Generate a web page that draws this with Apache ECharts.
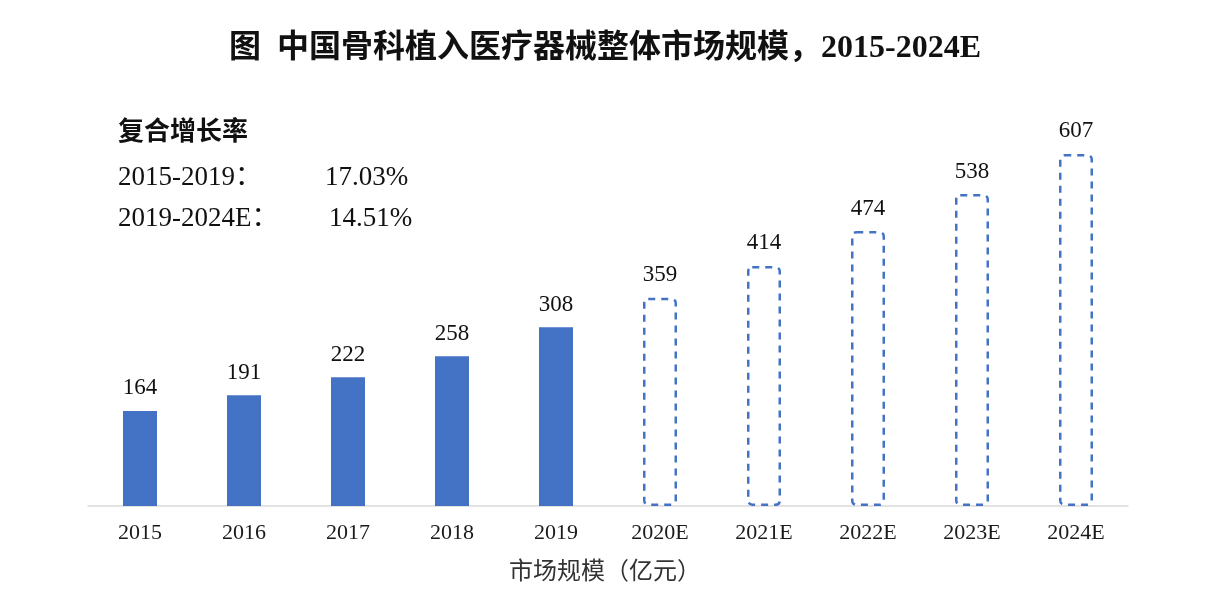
<!DOCTYPE html>
<html>
<head>
<meta charset="utf-8">
<script src="https://cdn.jsdelivr.net/npm/echarts@6/dist/echarts.min.js"></script>
<style>
html,body{margin:0;padding:0;background:#fff;}
#chart{width:1210px;height:604px;}
</style>
</head>
<body>
<div id="chart"></div>
<script>
const categories = ['2015','2016','2017','2018','2019','2020E','2021E','2022E','2023E','2024E'];
const actualValues = [164,191,222,258,308,'-','-','-','-','-'];
const forecastValues = ['-','-','-','-','-',359,414,474,538,607];
const titleText = '图  中国骨科植入医疗器械整体市场规模，2015-2024E';
const cagrHeader = '复合增长率';
const cagrPeriods = ['2015-2019：','2019-2024E：'];
const cagrRates = ['17.03%','14.51%'];
const legendText = '市场规模（亿元）';

const serifCJK = '"Liberation Serif","Times New Roman","Noto Sans CJK SC",serif';
const blue = '#4472C4';

const chart = echarts.init(document.getElementById('chart'));
chart.setOption({
  backgroundColor: '#ffffff',
  animation: false,
  title: {
    text: titleText,
    left: 'center',
    top: 28,
    textStyle: {fontFamily: serifCJK, fontSize: 32, fontWeight: 'bold', color: '#111'}
  },
  grid: {left: 88, right: 82, top: 100, bottom: 98},
  xAxis: {
    type: 'category',
    data: categories,
    axisLine: {lineStyle: {color: '#d9d9d9', width: 1.5}},
    axisTick: {show: false},
    axisLabel: {fontFamily: serifCJK, fontSize: 22, color: '#1a1a1a', margin: 16}
  },
  yAxis: {
    type: 'value', min: 0, max: 700, show: false,
    splitLine: {show: false}
  },
  graphic: [
    {type: 'text', left: 118, top: 117, style: {text: cagrHeader, font: 'bold 26px "Noto Sans CJK SC"', fill: '#111'}},
    {type: 'text', left: 118, top: 164, style: {text: cagrPeriods[0], font: '27px "Liberation Serif","Noto Sans CJK SC"', fill: '#111'}},
    {type: 'text', left: 325, top: 164, style: {text: cagrRates[0], font: '27px "Liberation Serif"', fill: '#111'}},
    {type: 'text', left: 118, top: 205, style: {text: cagrPeriods[1], font: '27px "Liberation Serif","Noto Sans CJK SC"', fill: '#111'}},
    {type: 'text', left: 329, top: 205, style: {text: cagrRates[1], font: '27px "Liberation Serif"', fill: '#111'}},
    {type: 'text', left: 'center', top: 558, style: {text: legendText, font: '24px "Noto Sans CJK SC"', fill: '#333'}}
  ],
  series: [
    {
      type: 'bar',
      data: actualValues,
      barWidth: 34,
      barGap: '-100%',
      itemStyle: {color: blue},
      label: {show: true, position: 'top', distance: 11, fontFamily: serifCJK, fontSize: 23, color: '#111'}
    },
    {
      type: 'bar',
      data: forecastValues,
      barWidth: 34,
      itemStyle: {color: 'rgba(255,255,255,0)', borderColor: blue, borderWidth: 2.5, borderType: [7, 6], borderRadius: 4},
      label: {show: true, position: 'top', distance: 11, fontFamily: serifCJK, fontSize: 23, color: '#111'}
    }
  ]
});
</script>
</body>
</html>
